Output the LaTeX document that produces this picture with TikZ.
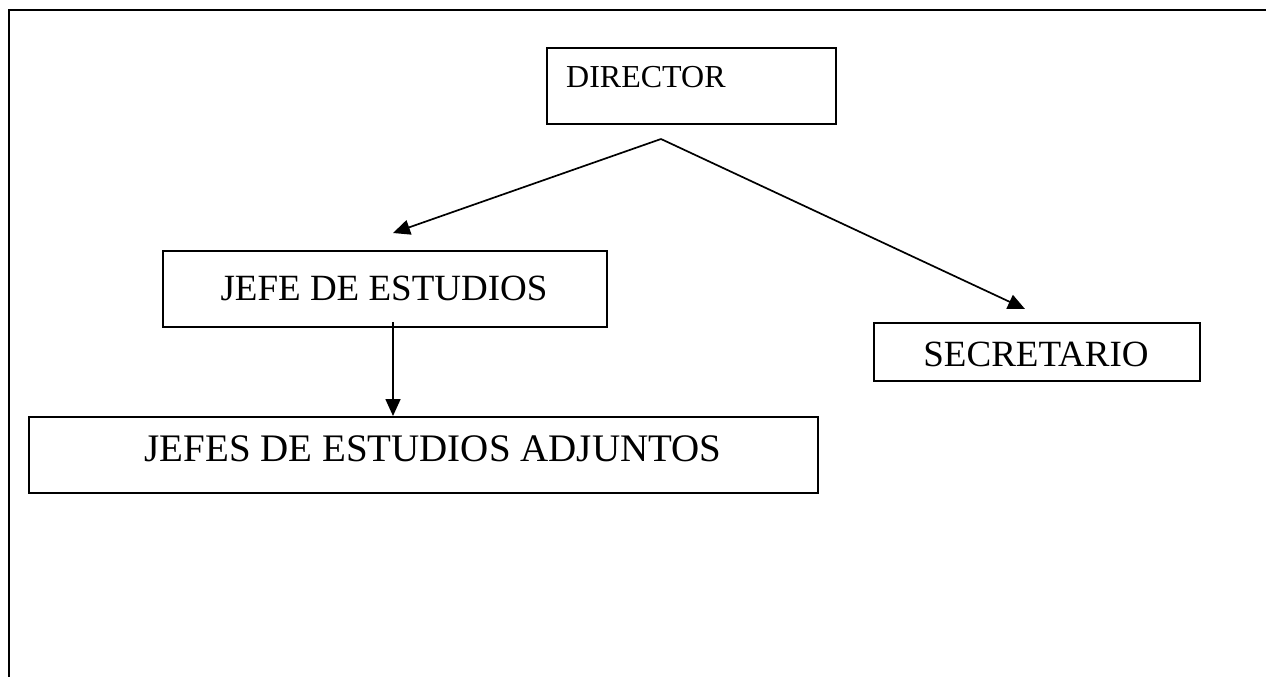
\documentclass[tikz,border=0pt]{standalone}
\usepackage{fontspec}
\setmainfont{Liberation Serif}
\usetikzlibrary{arrows.meta}
\begin{document}
\begin{tikzpicture}[x=1pt,y=-1pt,
  box/.style={draw, line width=2pt, inner sep=0pt, anchor=north west},
  conn/.style={line width=1.7pt, -{Triangle[length=17pt,width=15pt]}},
  big/.style={font=\fontsize{37}{40}\selectfont, inner sep=0pt},
  bigger/.style={font=\fontsize{39}{42}\selectfont, inner sep=0pt},
  small/.style={font=\fontsize{32}{36}\selectfont, inner sep=0pt}]
\useasboundingbox (0,0) rectangle (1266,677);
% page frame (top and left sides)
\coordinate (ftr) at (1266,10);
\coordinate (ftl) at (9,10);
\coordinate (fbl) at (9,677);
\draw[line width=2.6pt] (ftr) -- (ftl) -- (fbl);
% boxes
\node[box, minimum width=289pt, minimum height=76pt] (dir) at (546,47) {};
\node[small, anchor=base west] (dirt) at (566,87) {DIRECTOR};
\node[box, minimum width=444pt, minimum height=76pt] (jefe) at (162,250) {};
\node[big, anchor=base] (jefet) at (384,300) {JEFE DE ESTUDIOS};
\node[box, minimum width=326pt, minimum height=58pt] (sec) at (873,322) {};
\node[big, anchor=base] (sect) at (1036,366) {SECRETARIO};
\node[box, minimum width=789pt, minimum height=76pt] (adj) at (28,416) {};
\node[bigger, anchor=base] (adjt) at (433,461) {JEFES DE ESTUDIOS ADJUNTOS};
% connectors
\coordinate (split) at (661,139);
\coordinate (tipj) at (393,233);
\coordinate (tips) at (1025,309);
\coordinate (vstart) at (393,322);
\draw[conn] (split) -- (tipj);
\draw[conn] (split) -- (tips);
\draw[conn] (vstart) -- (vstart |- adj.north);
\end{tikzpicture}
\end{document}
